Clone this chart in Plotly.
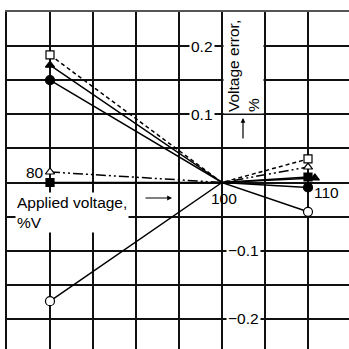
import plotly.graph_objects as go

# ---- data ----
x_common = [80, 100, 110]
open_square = [0.187, 0.0, 0.0345]
filled_triangle_x = [80, 100, 110.8]
filled_triangle = [0.172, 0.0, 0.0066]
filled_circle = [0.150, 0.0, -0.0073]
open_triangle = [0.0154, 0.0, 0.0227]
filled_square = [0.0, 0.0, 0.0081]
open_circle = [-0.174, 0.0, -0.043]

y_tick_pos = [0.1, 0.2]
y_tick_pos_labels = ["0.1", "0.2"]
y_tick_neg = [-0.1, -0.2]
y_tick_neg_labels = ["\u22120.1", "\u22120.2"]
x_tick_vals = [80, 100, 110]
x_tick_labels = ["80", "100", "110"]

FONT = "Liberation Sans, Arial, Helvetica, sans-serif"
FS = 15.5

W, H = 349, 349
ML, MT = 7, 12
PXX = 8.6   # px per x unit
PXY = 682   # px per y unit
x0 = 75
x1 = x0 + (W - ML) / PXX
y1 = 0.25
y0 = y1 - (H - MT) / PXY

def px2x(px):
    return x0 + (px - ML) / PXX

def py2y(py):
    return y1 - (py - MT) / PXY

fig = go.Figure()

ddot = "10px,3px,2px,3px,2px,3px"
series = [
    (x_common, filled_square, "square", "black", "solid", 8),
    (x_common, open_triangle, "triangle-up", "white", ddot, 8),
    (x_common, open_circle, "circle", "white", "solid", 9),
    (x_common, filled_circle, "circle", "black", "solid", 9),
    (filled_triangle_x, filled_triangle, "triangle-up", "black", "solid", 8),
    (x_common, open_square, "square", "white", "4px,3px", 8),
]
for xs, ys, sym, fill, dash, sz in series:
    sizes = [sz if xv != 100 else 0 for xv in xs]
    fig.add_trace(go.Scatter(
        x=xs, y=ys, mode="lines+markers",
        line=dict(color="black", width=1.5, dash=dash),
        marker=dict(symbol=sym, size=sizes, color=fill, opacity=1,
                    line=dict(color="black", width=1.2)),
        showlegend=False, cliponaxis=False,
    ))

ann = []
for v, t in zip(y_tick_pos, y_tick_pos_labels):
    ann.append(dict(x=px2x(215), y=v, text=t, xanchor="right", yanchor="middle",
                    showarrow=False, bgcolor="white", borderpad=1))
for v, t in zip(y_tick_neg, y_tick_neg_labels):
    ann.append(dict(x=px2x(226), y=v, text=t, xanchor="left", yanchor="middle",
                    showarrow=False, bgcolor="white", borderpad=1))

# x tick labels
ann.append(dict(x=px2x(45), y=py2y(172), text=x_tick_labels[0], xanchor="right",
                yanchor="middle", showarrow=False, bgcolor="white", borderpad=0))
ann.append(dict(x=px2x(224), y=py2y(198), text=x_tick_labels[1], xanchor="center",
                yanchor="middle", showarrow=False, borderpad=0))
ann.append(dict(x=px2x(313), y=py2y(192), text=x_tick_labels[2], xanchor="left",
                yanchor="middle", showarrow=False, borderpad=0))

# axis titles
ann.append(dict(x=px2x(243), y=py2y(66), text="Voltage error,<br>%",
                textangle=-90, align="left", xanchor="center", yanchor="middle",
                showarrow=False, bgcolor="white", borderpad=1))
ann.append(dict(x=px2x(15), y=py2y(212), text="Applied voltage,<br>%V",
                align="left", xanchor="left", yanchor="middle",
                showarrow=False, bgcolor="white", borderpad=1))

# arrows
ann.append(dict(x=px2x(172), y=py2y(198), ax=-28, ay=0, text="",
                showarrow=True, arrowhead=2, arrowsize=0.8, arrowwidth=1.2,
                arrowcolor="black"))
ann.append(dict(x=px2x(243), y=py2y(118), ax=0, ay=22, text="",
                showarrow=True, arrowhead=2, arrowsize=0.8, arrowwidth=1.2,
                arrowcolor="black"))

for a in ann:
    a.setdefault("xref", "x")
    a.setdefault("yref", "y")
    a["font"] = dict(family=FONT, size=FS, color="black")

fig.update_layout(
    width=W, height=H,
    margin=dict(l=ML, t=MT, r=0, b=0),
    paper_bgcolor="white", plot_bgcolor="white",
    font=dict(family=FONT, size=FS, color="black"),
    annotations=ann,
    xaxis=dict(range=[x0, x1], tick0=75, dtick=5, showgrid=True,
               gridcolor="#111", gridwidth=1.5, zeroline=False,
               showticklabels=False, ticks="", showline=True, side="top",
               linecolor="#555", linewidth=2),
    yaxis=dict(range=[y0, y1], tick0=0, dtick=0.05, showgrid=True,
               gridcolor="#111", gridwidth=1.5, zeroline=False,
               showticklabels=False, ticks="", showline=True,
               linecolor="#111", linewidth=1.5),
)

fig.write_html("out.html")
